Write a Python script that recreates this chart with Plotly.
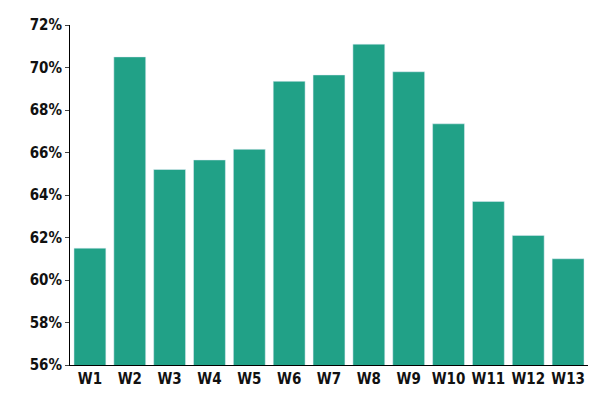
import plotly.graph_objects as go

weeks = ["W1","W2","W3","W4","W5","W6","W7","W8","W9","W10","W11","W12","W13"]
values = [61.5, 70.5, 65.2, 65.65, 66.15, 69.35, 69.65, 71.1, 69.8, 67.35, 63.7, 62.1, 61.0]
yticks = [56, 58, 60, 62, 64, 66, 68, 70, 72]

fig = go.Figure(go.Bar(x=weeks, y=values, marker_color="#21a187", width=0.8))
font = dict(family="Liberation Sans Narrow, DejaVu Sans Condensed, sans-serif", size=15, color="#111")
fig.update_layout(
    width=600, height=400, plot_bgcolor="white", paper_bgcolor="white",
    margin=dict(l=62, r=20, t=17, b=43, autoexpand=False), font=font, showlegend=False,
)
fig.update_xaxes(showline=True, linecolor="black", linewidth=1, ticks="", tickfont=dict(size=15),
                 automargin=False, tickvals=weeks, ticktext=[f"<b>{w}</b>" for w in weeks])
fig.update_yaxes(range=[56, 72], tickvals=yticks, ticktext=[f"<b>{v}%</b>" for v in yticks],
                 showline=True, linecolor="black", linewidth=1, ticks="outside", ticklen=4,
                 showgrid=False, zeroline=False, automargin=False)
fig.write_html("out.html")
